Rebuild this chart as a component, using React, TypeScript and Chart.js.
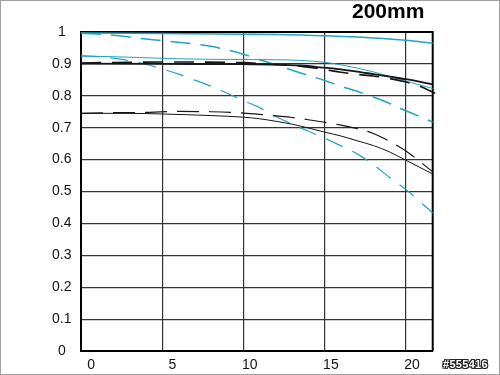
import React, { useEffect, useRef } from "react";
import { Chart, registerables } from "chart.js";

Chart.register(...registerables);

const X_MAX = 21.65;
const X_TICKS = [0, 5, 10, 15, 20];
const Y_TICKS = [0, 0.1, 0.2, 0.3, 0.4, 0.5, 0.6, 0.7, 0.8, 0.9, 1];

// Cyan, thick solid (top)
const A_X = [0, 5, 10, 12, 15, 18, 20, 21.65];
const A_Y = [0.997, 0.995, 0.993, 0.992, 0.988, 0.981, 0.974, 0.965];
// Cyan, thick dashed (top)
const B_X = [0, 2, 4, 6, 8, 9, 10, 11, 12, 13, 14, 15, 16, 17, 18, 19, 20, 21.65];
const B_Y = [0.996, 0.99, 0.978, 0.968, 0.955, 0.944, 0.93, 0.913, 0.897, 0.88, 0.864, 0.848, 0.83, 0.814, 0.796, 0.776, 0.753, 0.718];
// Cyan, thin solid
const C_X = [0, 3, 6, 9, 12, 13.5, 15, 16, 17, 18, 19, 20, 21.65];
const C_Y = [0.925, 0.921, 0.916, 0.914, 0.913, 0.911, 0.905, 0.897, 0.887, 0.875, 0.861, 0.846, 0.823];
// Cyan, thin dashed
const D_X = [0, 1, 2, 3, 4, 5, 6, 7, 8, 9, 10, 11, 12, 13, 14, 15, 16, 17, 18, 19, 20, 21.65];
const D_Y = [0.925, 0.923, 0.918, 0.91, 0.899, 0.884, 0.868, 0.849, 0.83, 0.808, 0.785, 0.763, 0.735, 0.711, 0.689, 0.667, 0.643, 0.618, 0.584, 0.544, 0.506, 0.433];
// Black, thick solid
const E_X = [0, 5, 10, 12, 13.5, 15, 16, 17, 18, 19, 20, 21.65];
const E_Y = [0.901, 0.9, 0.899, 0.898, 0.895, 0.888, 0.883, 0.876, 0.868, 0.86, 0.852, 0.836];
// Black, thick dashed
const F_X = [0, 5, 10, 12, 13.5, 15, 16, 17, 18, 19, 20, 20.6, 21.8];
const F_Y = [0.903, 0.906, 0.904, 0.898, 0.893, 0.882, 0.874, 0.867, 0.862, 0.854, 0.843, 0.835, 0.808];
// Black, thin solid
const G_X = [0, 3, 5, 8, 10, 11, 12, 13, 14, 15, 16, 17, 18, 19, 20, 21.65];
const G_Y = [0.745, 0.745, 0.743, 0.738, 0.733, 0.728, 0.72, 0.711, 0.699, 0.686, 0.674, 0.659, 0.644, 0.624, 0.598, 0.555];
// Black, thin dashed
const H_X = [0, 2, 4, 6, 8, 10, 11, 12, 13, 14, 15, 16, 17, 18, 19, 20, 21.65];
const H_Y = [0.745, 0.747, 0.748, 0.751, 0.75, 0.746, 0.742, 0.737, 0.732, 0.725, 0.717, 0.708, 0.697, 0.682, 0.657, 0.627, 0.562];

const CYAN = "#22a4c4";
const BLACK = "#161616";
const FONT = "'Liberation Sans', Arial, Helvetica, sans-serif";

function pts(xs: number[], ys: number[]) {
  return xs.map((x, i) => ({ x, y: ys[i] }));
}

export default function App() {
  const ref = useRef<HTMLCanvasElement>(null);

  useEffect(() => {
    if (!ref.current) return;
    const frame = {
      id: "frame",
      beforeDatasetsDraw(chart: any) {
        const { ctx, chartArea } = chart;
        ctx.save();
        ctx.strokeStyle = "#000";
        ctx.lineWidth = 2;
        ctx.beginPath();
        ctx.moveTo(chartArea.left, chartArea.top);
        ctx.lineTo(chartArea.right, chartArea.top);
        ctx.lineTo(chartArea.right, chartArea.bottom);
        ctx.stroke();
        ctx.restore();
      },
    };

    const ds = (
      xs: number[],
      ys: number[],
      color: string,
      width: number,
      dash: number[]
    ) => ({
      data: pts(xs, ys),
      borderColor: color,
      backgroundColor: color,
      borderWidth: width,
      borderDash: dash,
      pointRadius: 0,
      fill: false,
      cubicInterpolationMode: "monotone" as const,
      clip: false as const,
    });

    const chart = new Chart(ref.current, {
      type: "line",
      data: {
        datasets: [
          ds(G_X, G_Y, BLACK, 1, []),
          ds(H_X, H_Y, BLACK, 1.2, [22, 10]),
          ds(E_X, E_Y, BLACK, 1.8, []),
          ds(F_X, F_Y, BLACK, 1.6, [20, 11]),
          ds(A_X, A_Y, CYAN, 1.5, []),
          ds(B_X, B_Y, CYAN, 1.5, [20, 10]),
          ds(C_X, C_Y, CYAN, 1, []),
          ds(D_X, D_Y, CYAN, 1.2, [18, 11]),
        ],
      },
      plugins: [frame],
      options: {
        animation: false,
        responsive: false,
        devicePixelRatio: 1,
        events: [],
        layout: { padding: { top: 32, right: 67.3, bottom: 0, left: 0 } },
        plugins: {
          legend: { display: false },
          tooltip: { enabled: false },
          title: { display: false },
        },
        scales: {
          x: {
            type: "linear",
            min: 0,
            max: X_MAX,
            afterBuildTicks: (s: any) => {
              s.ticks = X_TICKS.map((v) => ({ value: v }));
            },
            afterFit: (s: any) => {
              s.height = 24;
            },
            ticks: {
              align: "end",
              labelOffset: 14,
              padding: 6,
              autoSkip: false,
              maxRotation: 0,
              color: "#111",
              font: { family: FONT, size: 14 },
              callback: (v: any) => String(v),
            },
            grid: { color: "#333", lineWidth: 1.2, drawTicks: false },
            border: { color: "#000", width: 2 },
          },
          y: {
            type: "linear",
            min: 0,
            max: 1,
            afterBuildTicks: (s: any) => {
              s.ticks = Y_TICKS.map((v) => ({ value: v }));
            },
            afterFit: (s: any) => {
              s.width = 81;
            },
            ticks: {
              crossAlign: "center",
              padding: 9.5,
              autoSkip: false,
              color: "#111",
              font: { family: FONT, size: 14 },
              callback: (v: any) => {
                const n = Number(v);
                if (Math.abs(n) < 1e-9) return "0";
                if (Math.abs(n - 1) < 1e-9) return "1";
                return n.toFixed(1);
              },
            },
            grid: { color: "#333", lineWidth: 1.2, drawTicks: false },
            border: { color: "#000", width: 2 },
          },
        },
      },
    } as any);
    return () => chart.destroy();
  }, []);

  return (
    <div
      style={{
        position: "fixed",
        left: 0,
        top: 0,
        width: 500,
        height: 375,
        background: "#fff",
        overflow: "hidden",
      }}
    >
      <canvas ref={ref} width={500} height={375} style={{ display: "block" }} />
      <div
        style={{
          position: "absolute",
          left: 352,
          top: 0,
          fontFamily: FONT,
          fontWeight: "bold",
          fontSize: 21,
          lineHeight: "21px",
          color: "#000",
          whiteSpace: "nowrap",
        }}
      >
        200mm
      </div>
      <div
        style={{
          position: "absolute",
          left: 443,
          top: 357,
          fontFamily: FONT,
          fontWeight: "bold",
          fontSize: 11,
          lineHeight: "14px",
          letterSpacing: "0.3px",
          color: "#fff",
          whiteSpace: "nowrap",
          textShadow:
            "1px 0 0 #222, -1px 0 0 #222, 0 1px 0 #222, 0 -1px 0 #222, 1px 1px 0 #222, -1px -1px 0 #222, 1px -1px 0 #222, -1px 1px 0 #222",
        }}
      >
        #555416
      </div>
      <div
        style={{
          position: "absolute",
          left: 0,
          top: 0,
          width: 500,
          height: 375,
          boxSizing: "border-box",
          border: "1px solid #a0a0a0",
          pointerEvents: "none",
        }}
      />
    </div>
  );
}
